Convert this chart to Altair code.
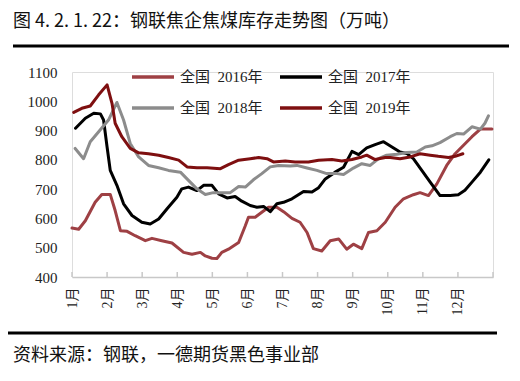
import altair as alt
import pandas as pd

TITLE = "图 4. 2. 1. 22：钢联焦企焦煤库存走势图（万吨）"
SOURCE = "资料来源：钢联，一德期货黑色事业部"
SERIES = ["全国\u00a0\u00a02016年", "全国\u00a0\u00a02017年", "全国\u00a0\u00a02018年", "全国\u00a0\u00a02019年"]
COLORS = ["#9E4044", "#000000", "#8C8C8C", "#7E0F10"]
MONTH_TICKS = list(range(13))
MONTH_LABELS = ["1月", "2月", "3月", "4月", "5月", "6月", "7月", "8月", "9月", "10月", "11月", "12月", ""]
Y_TICKS = [400, 500, 600, 700, 800, 900, 1000, 1100]

# x position in months (0 = start of January)
M_2016 = [0, 0.19, 0.38, 0.66, 0.85, 1.09, 1.23, 1.38, 1.57, 1.80, 2.09, 2.28, 2.56, 2.85, 3.18, 3.42,
          3.66, 3.80, 3.99, 4.13, 4.27, 4.46, 4.75, 4.94, 5.03, 5.22, 5.41, 5.60, 5.84, 6.03, 6.27, 6.50,
          6.70, 6.88, 7.12, 7.36, 7.60, 7.83, 8.02, 8.26, 8.45, 8.69, 8.93, 9.21, 9.45, 9.73, 9.92, 10.16,
          10.40, 10.68, 10.92, 11.16, 11.40, 11.64, 11.97]
V_2016 = [567, 563, 592, 655, 682, 682, 627, 558, 556, 541, 524, 532, 524, 516, 484, 478,
          484, 472, 464, 463, 484, 495, 518, 575, 604, 604, 621, 638, 638, 623, 600, 587,
          552, 497, 489, 524, 530, 495, 512, 497, 552, 558, 587, 638, 667, 681, 688, 678,
          718, 781, 821, 850, 879, 905, 905]

M_2017 = [0.1, 0.38, 0.62, 0.81, 0.90, 1.0, 1.09, 1.28, 1.47, 1.71, 1.99, 2.23, 2.47, 2.71, 2.99, 3.13,
          3.32, 3.56, 3.75, 3.99, 4.18, 4.42, 4.65, 4.84, 5.08, 5.27, 5.46, 5.65, 5.84, 6.03, 6.27, 6.60,
          6.84, 7.03, 7.22, 7.50, 7.74, 7.98, 8.17, 8.40, 8.64, 8.88, 9.12, 9.35, 9.54, 9.73, 9.97, 10.21,
          10.49, 10.78, 11.01, 11.20, 11.40, 11.64, 11.88]
V_2017 = [908, 942, 959, 957, 936, 844, 764, 713, 650, 610, 587, 581, 598, 633, 672, 701,
          707, 695, 713, 713, 684, 670, 675, 659, 644, 638, 641, 623, 650, 655, 667, 692,
          690, 705, 735, 758, 775, 829, 818, 841, 852, 862, 844, 827, 822, 804, 764, 724,
          678, 678, 681, 696, 724, 758, 800]

M_2018 = [0.09, 0.33, 0.52, 0.76, 1.04, 1.28, 1.47, 1.66, 1.90, 2.18, 2.47, 2.75, 3.09, 3.32, 3.56, 3.80,
          4.03, 4.27, 4.51, 4.75, 4.94, 5.17, 5.41, 5.65, 5.89, 6.22, 6.41, 6.70, 6.98, 7.26, 7.55, 7.74,
          8.02, 8.26, 8.50, 8.74, 8.97, 9.26, 9.54, 9.83, 10.07, 10.26, 10.49, 10.78, 10.97, 11.16, 11.40,
          11.64, 11.77, 11.87]
V_2018 = [839, 804, 862, 896, 936, 996, 936, 856, 810, 781, 773, 764, 758, 730, 701, 682,
          688, 688, 688, 709, 707, 732, 753, 776, 781, 779, 781, 772, 764, 753, 753, 750,
          772, 787, 781, 804, 816, 819, 825, 827, 844, 848, 859, 879, 890, 888, 913,
          905, 925, 950]

M_2019 = [0.05, 0.28, 0.52, 0.76, 1.0, 1.14, 1.23, 1.42, 1.66, 1.90, 2.18, 2.47, 2.75, 3.04, 3.28, 3.56,
          3.85, 4.23, 4.46, 4.75, 5.08, 5.32, 5.56, 5.74, 6.08, 6.36, 6.74, 7.03, 7.41, 7.69, 7.98, 8.26,
          8.40, 8.64, 8.93, 9.07, 9.35, 9.64, 9.92, 10.21, 10.44, 10.73, 10.92, 11.14]
V_2019 = [962, 976, 984, 1022, 1056, 993, 925, 879, 839, 824, 821, 816, 808, 799, 776, 773,
          773, 770, 784, 799, 804, 808, 804, 793, 796, 793, 793, 799, 801, 796, 801, 810,
          816, 801, 808, 808, 804, 810, 821, 816, 812, 808, 812, 821]

rows = []
for name, ms, vs in zip(SERIES, [M_2016, M_2017, M_2018, M_2019], [V_2016, V_2017, V_2018, V_2019]):
    for i, (m, v) in enumerate(zip(ms, vs)):
        rows.append({"series": name, "m": m, "v": v, "i": i})
df = pd.DataFrame(rows)

SERIF = "Liberation Serif, Noto Sans CJK SC"
SANS = "Noto Sans CJK SC"
W, H = 421, 205

label_expr = "[" + ",".join("'" + s + "'" for s in MONTH_LABELS) + "][datum.value]"

x_scale = alt.Scale(domain=[0, 12], nice=False, zero=False)
x_axis = alt.Axis(values=MONTH_TICKS, labelExpr=label_expr, labelAngle=270, title=None,
                  grid=False, ticks=False, domainColor="#C8C8C8", domainWidth=1.5,
                  labelOverlap=False, labelFont=SERIF, labelFontSize=14,
                  labelColor="#222222", labelPadding=10)

lines = alt.Chart(df).mark_line(strokeWidth=3, strokeJoin="round", strokeCap="round").encode(
    x=alt.X("m:Q", scale=x_scale, axis=x_axis),
    y=alt.Y("v:Q", scale=alt.Scale(domain=[400, 1100], nice=False, zero=False),
            axis=alt.Axis(values=Y_TICKS, format="d", title=None, grid=False, ticks=False, domain=False,
                          labelOverlap=False, labelFont=SERIF, labelFontSize=15,
                          labelColor="#222222", labelPadding=15)),
    color=alt.Color("series:N", scale=alt.Scale(domain=SERIES, range=COLORS),
                    legend=alt.Legend(title=None, orient="none", legendX=58, legendY=-18, columns=2,
                                      direction="horizontal",
                                      symbolType="stroke", symbolSize=1764, symbolStrokeWidth=3.5,
                                      labelFont=SERIF, labelFontSize=15, labelColor="#222222",
                                      labelOffset=4, columnPadding=10, rowPadding=-14, padding=0,
                                      labelLimit=200)),
    order="i:Q",
)

ticks_df = pd.DataFrame({"m": MONTH_TICKS})
tick_marks = alt.Chart(ticks_df).mark_rule(color="#C8C8C8", strokeWidth=1.5).encode(
    x=alt.X("m:Q", scale=x_scale, axis=x_axis), y=alt.value(H), y2=alt.value(H - 5))

one = pd.DataFrame({"a": [0]})
title_text = alt.Chart(pd.DataFrame({"t": [TITLE]})).mark_text(
    align="left", baseline="middle", font=SANS, fontSize=18, color="#111111").encode(
    text="t:N", x=alt.value(-59), y=alt.value(-50))
source_text = alt.Chart(pd.DataFrame({"t": [SOURCE]})).mark_text(
    align="left", baseline="middle", font=SANS, fontSize=18, color="#111111").encode(
    text="t:N", x=alt.value(-59), y=alt.value(284))
top_rule = alt.Chart(one).mark_rule(color="black", strokeWidth=3).encode(
    x=alt.value(-59), x2=alt.value(437), y=alt.value(-26))
bottom_rule = alt.Chart(one).mark_rule(color="black", strokeWidth=3).encode(
    x=alt.value(-64), x2=alt.value(425), y=alt.value(261))

chart = alt.layer(lines, tick_marks, title_text, source_text, top_rule, bottom_rule).properties(
    width=W, height=H,
    autosize=alt.AutoSizeParams(type="none"),
    padding={"left": 64, "top": 64, "right": 19, "bottom": 97},
).configure_view(stroke=None).configure(background="white")

chart.save("out.html", embed_options={"renderer": "svg", "actions": False})
